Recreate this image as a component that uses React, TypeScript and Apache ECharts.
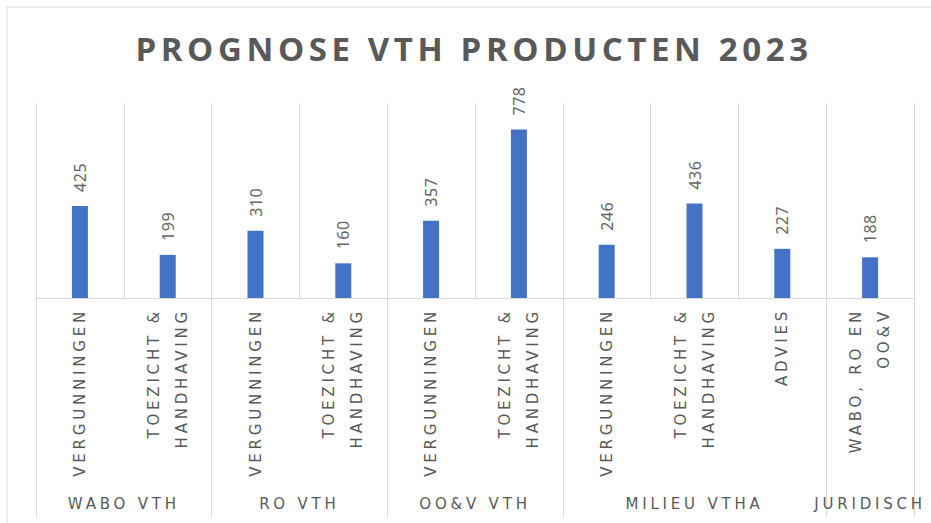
import React, { useEffect, useRef } from "react";
import * as echarts from "echarts";

const titleText = "PROGNOSE VTH PRODUCTEN 2023";
const subCategories = [
  "VERGUNNINGEN",
  "TOEZICHT &\nHANDHAVING",
  "VERGUNNINGEN",
  "TOEZICHT &\nHANDHAVING",
  "VERGUNNINGEN",
  "TOEZICHT &\nHANDHAVING",
  "VERGUNNINGEN",
  "TOEZICHT &\nHANDHAVING",
  "ADVIES",
  "WABO, RO EN\nOO&V",
];
const values = [425, 199, 310, 160, 357, 778, 246, 436, 227, 188];
const groups = ["WABO VTH", "RO VTH", "OO&V VTH", "MILIEU VTHA", "JURIDISCH"];
const groupSizes = [2, 2, 2, 3, 1];

const GRAY = "#595959";
const LINE = "#d9d9d9";

export default function App() {
  const ref = useRef<HTMLDivElement>(null);

  useEffect(() => {
    if (!ref.current) return;
    const chart = echarts.init(ref.current, undefined, { renderer: "svg" });

    // half-slot axis for group labels and separators
    const slots = subCategories.length * 2 + 1;
    const slotIds: string[] = [];
    for (let i = 0; i < slots; i++) slotIds.push("s" + i);
    const labelAt: Record<number, string> = {};
    const boundaries = new Set<number>();
    let start = 0;
    groups.forEach((g, gi) => {
      boundaries.add(start * 2);
      labelAt[start * 2 + groupSizes[gi]] = g;
      start += groupSizes[gi];
    });
    boundaries.add(start * 2);

    chart.setOption({
      animation: false,
      backgroundColor: "#ffffff",
      title: {
        text: titleText,
        left: 469,
        textAlign: "center",
        top: 27,
        textStyle: {
          fontFamily: "Open Sans",
          fontWeight: "bold",
          fontSize: 33,
          color: GRAY,
        },
      },
      graphic: [
        {
          type: "rect",
          shape: { x: 7, y: 7, width: 960, height: 540 },
          style: { fill: "none", stroke: LINE, lineWidth: 1 },
          silent: true,
          z: -10,
        },
      ],
      grid: { left: 36, right: 17, top: 103, bottom: 225, containLabel: false },
      xAxis: [
        {
          type: "category",
          data: subCategories,
          position: "bottom",
          axisLine: { show: true, lineStyle: { color: LINE, width: 1 } },
          axisTick: { show: false },
          splitLine: { show: true, interval: 0, lineStyle: { color: LINE, width: 1 } },
          axisLabel: {
            interval: 0,
            rotate: 90,
            margin: 10,
            fontFamily: "DejaVu Sans",
            fontSize: 15,
            lineHeight: 28,
            color: GRAY,
          },
        },
        {
          type: "category",
          data: slotIds,
          position: "bottom",
          boundaryGap: false,
          axisLine: { show: false },
          axisTick: {
            show: true,
            length: 219,
            interval: (index: number) => boundaries.has(index),
            lineStyle: { color: LINE, width: 1 },
          },
          splitLine: { show: false },
          axisLabel: {
            interval: 0,
            margin: 198,
            fontFamily: "DejaVu Sans",
            fontSize: 15,
            color: GRAY,
            formatter: (_v: string, index: number) => labelAt[index] ?? "",
          },
        },
      ],
      yAxis: {
        type: "value",
        min: 0,
        max: 900,
        show: false,
        splitLine: { show: false },
      },
      series: [
        {
          type: "bar",
          xAxisIndex: 0,
          data: values,
          barWidth: 16,
          itemStyle: { color: "#4472C4" },
          label: {
            show: true,
            position: "top",
            rotate: 90,
            align: "left",
            verticalAlign: "middle",
            distance: 14,
            fontFamily: "Noto Sans",
            fontSize: 16,
            color: "#666666",
          },
        },
      ],
    });

    return () => chart.dispose();
  }, []);

  return (
    <>
      <style>{`
        .chartbox text[style*="Open Sans"], .chartbox text[font-family*="Open Sans"] { letter-spacing: 4.6px; }
        .chartbox text[style*="DejaVu"], .chartbox text[font-family*="DejaVu"] { letter-spacing: 3.8px; }
        .chartbox text[style*="Noto Sans"], .chartbox text[font-family*="Noto Sans"] { letter-spacing: 0.5px; }
      `}</style>
      <div
        ref={ref}
        className="chartbox"
        style={{ position: "fixed", left: 0, top: 0, width: 931, height: 523 }}
      />
    </>
  );
}
